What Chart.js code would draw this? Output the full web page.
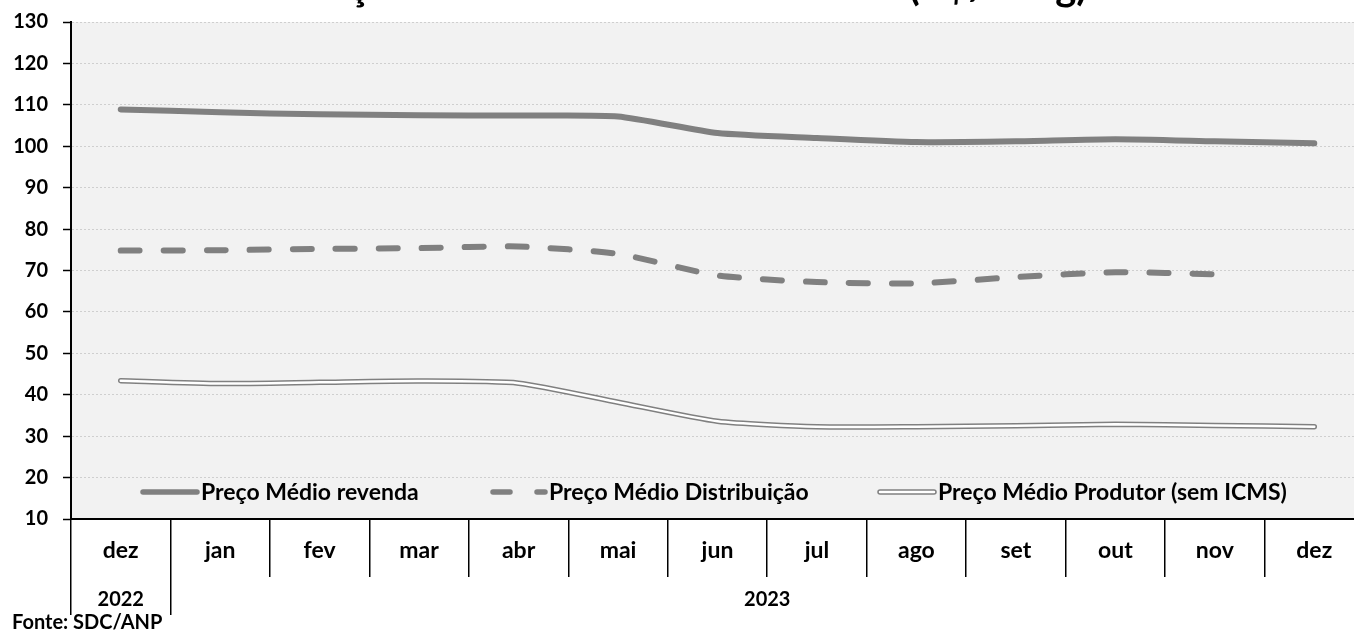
<!DOCTYPE html>
<html>
<head>
<meta charset="utf-8">
<script src="https://cdn.jsdelivr.net/npm/chart.js@4.4.1/dist/chart.umd.min.js"></script>
<style>
  html, body { margin: 0; padding: 0; background: #ffffff; overflow: hidden; width: 1354px; height: 635px; }
  #wrap { position: absolute; left: 0; top: -60px; width: 1364px; height: 695px; }
</style>
</head>
<body>
<div id="wrap"><canvas id="c" width="1364" height="695"></canvas></div>
<script>
// ---- data ----
const titleText = 'Preço Médio do GLP P13 no Brasil (R$/13kg)';
const sourceText = 'Fonte: SDC/ANP';
const months = ['dez', 'jan', 'fev', 'mar', 'abr', 'mai', 'jun', 'jul', 'ago', 'set', 'out', 'nov', 'dez'];
const monthYears = ['2022', '2023', '2023', '2023', '2023', '2023', '2023', '2023', '2023', '2023', '2023', '2023', '2023'];
const seriesNames = ['Preço Médio revenda', 'Preço Médio Distribuição', 'Preço Médio Produtor (sem ICMS)'];
const revenda = [108.9, 108.2, 107.7, 107.5, 107.4, 107.2, 103.2, 102.0, 101.0, 101.2, 101.7, 101.2, 100.7];
const distribuicao = [74.8, 74.9, 75.2, 75.4, 75.8, 74.0, 68.8, 67.2, 66.9, 68.4, 69.6, 69.1, null];
const produtor = [43.4, 42.7, 43.0, 43.3, 42.8, 38.2, 33.6, 32.3, 32.3, 32.5, 32.9, 32.6, 32.3];
const yMin = 10, yMax = 130, yStep = 10;

// ---- year groups for the second category level ----
const yearGroups = [];
monthYears.forEach((yr, i) => {
  const g = yearGroups[yearGroups.length - 1];
  if (g && g.year === yr) g.last = i; else yearGroups.push({ year: yr, first: i, last: i });
});
const yearBounds = [];
const yearCenters = {};
yearGroups.forEach(g => {
  yearBounds.push(g.first - 0.5);
  yearCenters[(g.first + g.last) / 2] = g.year;
});
yearBounds.push(months.length - 0.5);
const yearTickValues = Array.from(new Set(yearBounds.concat(Object.keys(yearCenters).map(Number)))).sort((a, b) => a - b);

const FONT = 'Lato, "Open Sans", "DejaVu Sans", sans-serif';
const GRAY = '#808080';

const bgPlugin = {
  id: 'plotBg',
  beforeDraw(chart) {
    const { ctx, chartArea: a } = chart;
    ctx.save();
    ctx.fillStyle = '#f2f2f2';
    ctx.fillRect(a.left, a.top, a.right - a.left, a.bottom - a.top);
    ctx.restore();
  }
};

const legendPlugin = {
  id: 'excelLegend',
  afterDatasetsDraw(chart) {
    const { ctx, chartArea: a } = chart;
    const y = a.bottom - 27;
    const starts = [72, 420, 809];
    const sampleLen = 54;
    ctx.save();
    ctx.font = 'bold 23px ' + FONT;
    ctx.textBaseline = 'middle';
    ctx.fillStyle = '#000';
    seriesNames.forEach((name, i) => {
      const x0 = a.left + starts[i];
      ctx.lineCap = 'round';
      ctx.strokeStyle = GRAY;
      if (i === 0) {
        ctx.setLineDash([]);
        ctx.lineWidth = 5.5;
        ctx.beginPath(); ctx.moveTo(x0, y); ctx.lineTo(x0 + sampleLen, y); ctx.stroke();
      } else if (i === 1) {
        ctx.setLineDash([17, 27]);
        ctx.lineWidth = 5.5;
        ctx.beginPath(); ctx.moveTo(x0 + 2, y); ctx.lineTo(x0 + sampleLen, y); ctx.stroke();
      } else {
        ctx.setLineDash([]);
        ctx.lineWidth = 5.5;
        ctx.beginPath(); ctx.moveTo(x0, y); ctx.lineTo(x0 + sampleLen, y); ctx.stroke();
        ctx.strokeStyle = '#ffffff';
        ctx.lineWidth = 2.5;
        ctx.beginPath(); ctx.moveTo(x0, y); ctx.lineTo(x0 + sampleLen, y); ctx.stroke();
      }
      ctx.setLineDash([]);
      ctx.fillText(name, x0 + 58, y + 1);
    });
    ctx.restore();
  }
};

new Chart(document.getElementById('c'), {
  type: 'line',
  data: {
    labels: months,
    datasets: [
      { label: seriesNames[2] + ' (interior)', data: produtor, borderColor: '#ffffff', borderWidth: 2.5,
        borderCapStyle: 'round', borderJoinStyle: 'round', pointRadius: 0, tension: 0.2, order: -1, xAxisID: 'x', yAxisID: 'y' },
      { label: seriesNames[0], data: revenda, borderColor: GRAY, borderWidth: 6,
        borderCapStyle: 'round', borderJoinStyle: 'round', pointRadius: 0, tension: 0.2, order: 1, xAxisID: 'x', yAxisID: 'y' },
      { label: seriesNames[1], data: distribuicao, borderColor: GRAY, borderWidth: 6, borderDash: [19, 24],
        borderCapStyle: 'round', borderJoinStyle: 'round', pointRadius: 0, tension: 0.2, order: 1, xAxisID: 'x', yAxisID: 'y' },
      { label: seriesNames[2], data: produtor, borderColor: GRAY, borderWidth: 5.5,
        borderCapStyle: 'round', borderJoinStyle: 'round', pointRadius: 0, tension: 0.2, order: 1, xAxisID: 'x', yAxisID: 'y' }
    ]
  },
  options: {
    responsive: false,
    animation: false,
    devicePixelRatio: 1,
    layout: { padding: { top: 23, left: 12, right: 0, bottom: 2 } },
    plugins: {
      legend: { display: false },
      tooltip: { enabled: false },
      title: { display: true, text: titleText, color: '#000', font: { family: FONT, size: 40, weight: 'bold', lineHeight: 1.2 }, padding: { top: 0, bottom: 11 } },
      subtitle: { display: true, text: sourceText, position: 'bottom', align: 'start', color: '#000', font: { family: FONT, size: 20, weight: 'bold', lineHeight: 1 }, padding: { top: 0, bottom: 0 } }
    },
    scales: {
      y: {
        position: 'left', min: yMin, max: yMax,
        afterFit(s) { s.width = 59; },
        ticks: { stepSize: yStep, color: '#000', font: { family: FONT, size: 20, weight: 'bold' }, padding: 15 },
        grid: { color: '#cfcfcf', lineWidth: 1, tickLength: 8, tickColor: '#000', tickWidth: 1.5, tickBorderDash: [] },
        border: { display: true, color: '#000', width: 2, dash: [2, 2] }
      },
      x: {
        type: 'category', position: 'bottom', offset: true,
        afterFit(s) { s.height = 58; },
        ticks: { color: '#000', font: { family: FONT, size: 23, weight: 'bold' }, padding: -40, maxRotation: 0, autoSkip: false },
        grid: { offset: true, drawOnChartArea: false, color: '#000', lineWidth: 1.5, tickLength: 58, tickColor: '#000', tickWidth: 1.5 },
        border: { display: true, color: '#000', width: 2 }
      },
      x2: {
        type: 'linear', position: 'bottom', min: -0.5, max: months.length - 0.5,
        afterBuildTicks(s) { s.ticks = yearTickValues.map(v => ({ value: v })); },
        afterFit(s) { s.height = 36; },
        ticks: {
          color: '#000', font: { family: FONT, size: 20, weight: 'bold' }, padding: -27, maxRotation: 0, autoSkip: false,
          callback(v) { return yearCenters[v] !== undefined ? yearCenters[v] : ''; }
        },
        grid: {
          drawOnChartArea: false, lineWidth: 1.5, tickLength: 38, tickWidth: 1.5,
          color(ctx) { return ctx.tick && yearBounds.includes(ctx.tick.value) ? '#000' : 'rgba(0,0,0,0)'; },
          tickColor(ctx) { return ctx.tick && yearBounds.includes(ctx.tick.value) ? '#000' : 'rgba(0,0,0,0)'; }
        },
        border: { display: false }
      }
    }
  },
  plugins: [bgPlugin, legendPlugin]
});
</script>
</body>
</html>
